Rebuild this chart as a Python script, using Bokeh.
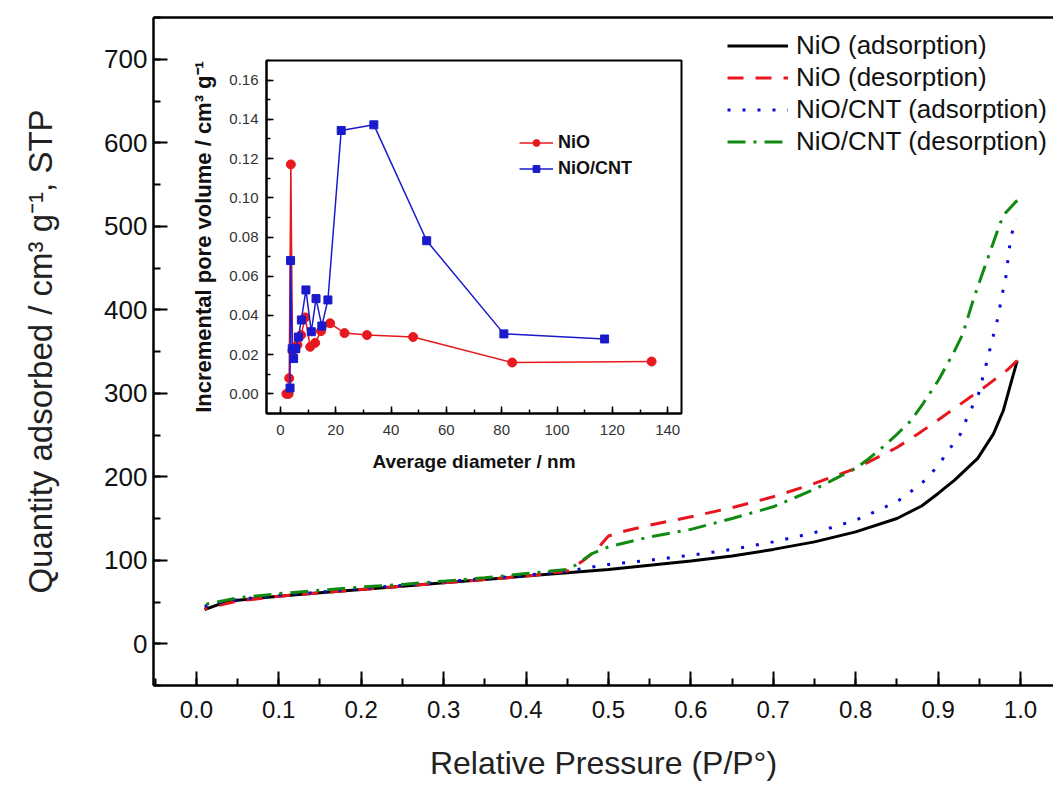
from bokeh.plotting import figure
from bokeh.models import (Range1d, LinearAxis, Legend, LegendItem,
                          SingleIntervalTicker, FixedTicker, NumeralTickFormatter)
from bokeh.embed import file_html
from bokeh.resources import INLINE

FONT = "Liberation Sans"

# ---------------- main isotherm data ----------------
nio_ads_x = [0.01, 0.03, 0.05, 0.08, 0.1, 0.15, 0.2, 0.25, 0.3, 0.35, 0.4, 0.45, 0.5, 0.55,
             0.6, 0.65, 0.7, 0.75, 0.8, 0.85, 0.88, 0.9, 0.92, 0.948, 0.967, 0.979, 0.988, 0.996]
nio_ads_y = [41, 48, 52, 55, 57, 61, 65, 69, 73, 77, 81, 85, 89, 94,
             99, 105, 113, 122, 134, 150, 165, 180, 196, 222, 251, 279, 311, 339]

nio_des_x = [0.996, 0.984, 0.96, 0.94, 0.92, 0.9, 0.875, 0.85, 0.82, 0.8, 0.75, 0.7, 0.65,
             0.6, 0.55, 0.52, 0.5, 0.485, 0.47, 0.455, 0.45, 0.4, 0.35, 0.3, 0.25, 0.2,
             0.15, 0.1, 0.05, 0.01]
nio_des_y = [339, 328, 310, 296, 282, 268, 251, 235, 220, 210, 192, 176, 163,
             152, 142, 135, 129, 112, 100, 90, 87, 81, 77, 73, 69, 65,
             61, 57, 51, 42]

cnt_ads_x = [0.01, 0.05, 0.1, 0.15, 0.2, 0.25, 0.3, 0.35, 0.4, 0.45, 0.5, 0.55, 0.6, 0.65,
             0.7, 0.75, 0.8, 0.85, 0.88, 0.9, 0.91, 0.927, 0.937, 0.949, 0.955, 0.961,
             0.967, 0.973, 0.977, 0.982, 0.985, 0.988, 0.994]
cnt_ads_y = [45, 53, 58, 62, 66, 70, 74, 78, 82, 87, 95, 100, 106, 113,
             122, 133, 148, 170, 192, 213, 228, 251, 275, 299, 322, 345,
             369, 392, 415, 438, 462, 485, 509]

cnt_des_x = [0.996, 0.979, 0.973, 0.955, 0.943, 0.93, 0.918, 0.9, 0.882, 0.867, 0.848,
             0.83, 0.815, 0.8, 0.75, 0.7, 0.65, 0.6, 0.55, 0.5, 0.48, 0.46, 0.45, 0.4,
             0.35, 0.3, 0.25, 0.2, 0.15, 0.1, 0.05, 0.01]
cnt_des_y = [531, 513, 497, 447, 413, 371, 347, 315, 288, 267, 249,
             233, 221, 210, 185, 164, 150, 137, 128, 116, 108, 94, 89, 84,
             79, 75, 71, 68, 64, 60, 55, 47]

# ---------------- inset pore-size data ----------------
nio_d = [2.2, 3.0, 3.2, 3.8, 4.4, 5.3, 6.2, 7.5, 9.0, 10.8, 12.6, 14.7, 18.0, 23.2,
         31.3, 48.0, 83.8, 134.2]
nio_v = [0.0, 0.0, 0.008, 0.117, 0.022, 0.023, 0.025, 0.030, 0.039, 0.024, 0.026,
         0.032, 0.036, 0.031, 0.030, 0.029, 0.016, 0.0165]
cnt_d = [3.5, 3.7, 4.3, 4.8, 5.6, 6.5, 7.6, 9.25, 11.2, 12.9, 15.0, 17.2, 22.0, 33.8,
         52.9, 80.8, 117.2]
cnt_v = [0.003, 0.068, 0.023, 0.018, 0.023, 0.029, 0.0377, 0.053, 0.0317, 0.0486,
         0.0346, 0.0479, 0.1343, 0.1372, 0.0781, 0.0306, 0.028]

labels_main = ["NiO (adsorption)", "NiO (desorption)",
               "NiO/CNT (adsorption)", "NiO/CNT (desorption)"]
labels_inset = ["NiO", "NiO/CNT"]

# ---------------- main figure ----------------
p = figure(width=1053, height=785, x_range=Range1d(-0.052, 1.04), y_range=Range1d(-50, 750),
           output_backend="svg", toolbar_location=None,
           min_border_left=153, min_border_right=0, min_border_top=17, min_border_bottom=100)
p.outline_line_color = None
p.grid.visible = False
p.background_fill_color = "white"
p.border_fill_color = "white"

for ax in (p.xaxis[0], p.yaxis[0]):
    ax.axis_line_width = 2.5
    ax.major_tick_line_width = 2
    ax.minor_tick_line_width = 2
    ax.major_tick_in = 14
    ax.major_tick_out = 0
    ax.minor_tick_in = 7
    ax.minor_tick_out = 0
    ax.major_label_text_font = FONT
    ax.major_label_text_color = "#111111"
    ax.axis_label_text_font = FONT
    ax.axis_label_text_font_style = "normal"
    ax.axis_label_text_color = "#222222"

p.xaxis.ticker = SingleIntervalTicker(interval=0.1, num_minor_ticks=2)
p.xaxis.formatter = NumeralTickFormatter(format="0.0")
p.xaxis.major_label_text_font_size = "24px"
p.xaxis.major_label_standoff = 15
p.xaxis.axis_label = "Relative Pressure (P/P\u00b0)"
p.xaxis.axis_label_text_font_size = "32px"
p.xaxis.axis_label_standoff = 24

p.yaxis.ticker = SingleIntervalTicker(interval=100, num_minor_ticks=2)
p.yaxis.major_label_text_font_size = "26px"
p.yaxis.major_label_standoff = 6
p.yaxis.axis_label = "Quantity adsorbed / cm\u00b3 g\u207b\u00b9, STP"
p.yaxis.axis_label_text_font_size = "33px"
p.yaxis.axis_label_standoff = 42

top = LinearAxis(ticker=FixedTicker(ticks=[]), axis_line_width=2.5,
                 major_label_text_font_size="0px", major_tick_line_color=None,
                 minor_tick_line_color=None)
p.add_layout(top, "above")

r1 = p.line(nio_ads_x, nio_ads_y, line_width=3, color="black")
r2 = p.line(nio_des_x, nio_des_y, line_width=3, color="#e8161c", line_dash="16 12")
r3 = p.line(cnt_ads_x, cnt_ads_y, line_width=3, color="#0a0ad8", line_dash="3 12")
r4 = p.line(cnt_des_x, cnt_des_y, line_width=3, color="#118a11", line_dash="18 8 3 8")

leg = Legend(items=[LegendItem(label=l, renderers=[r]) for l, r in
                    zip(labels_main, [r1, r2, r3, r4])],
             location=(574, 528), padding=0, margin=0, spacing=1,
             glyph_width=61, glyph_height=31, label_height=31, label_standoff=8,
             label_text_font=FONT, label_text_font_size="26px", label_text_color="#111111",
             border_line_color=None, background_fill_alpha=0)
p.add_layout(leg)

# ---------------- inset figure ----------------
ins = figure(width=505, height=430, x_range=Range1d(-5, 145), y_range=Range1d(-0.01, 0.17),
             output_backend="svg", toolbar_location=None,
             min_border_left=86, min_border_right=4, min_border_top=10, min_border_bottom=67)
ins.outline_line_color = "black"
ins.outline_line_width = 2
ins.grid.visible = False
ins.background_fill_alpha = 0
ins.border_fill_alpha = 0

for ax in (ins.xaxis[0], ins.yaxis[0]):
    ax.axis_line_width = 2
    ax.major_tick_line_width = 1.5
    ax.minor_tick_line_width = 1.5
    ax.major_tick_in = 7
    ax.major_tick_out = 0
    ax.minor_tick_in = 4
    ax.minor_tick_out = 0
    ax.major_label_text_font = FONT
    ax.major_label_text_font_size = "15px"
    ax.major_label_text_color = "#333333"
    ax.axis_label_text_font = FONT
    ax.axis_label_text_font_style = "bold"
    ax.axis_label_text_color = "#111111"

ins.xaxis.ticker = SingleIntervalTicker(interval=20, num_minor_ticks=2)
ins.xaxis.major_label_standoff = 11
ins.xaxis.axis_label = "Average diameter / nm"
ins.xaxis.axis_label_text_font_size = "19px"
ins.xaxis.axis_label_standoff = 13
ins.yaxis.ticker = SingleIntervalTicker(interval=0.02, num_minor_ticks=2)
ins.yaxis.formatter = NumeralTickFormatter(format="0.00")
ins.yaxis.major_label_standoff = 8
ins.yaxis.axis_label = "Incremental pore volume / cm\u00b3 g\u207b\u00b9"
ins.yaxis.axis_label_text_font_size = "22px"
ins.yaxis.axis_label_standoff = 10

red = "#e8191e"
blue = "#1a1acc"
l1 = ins.line(nio_d, nio_v, line_width=1.5, color=red)
s1 = ins.scatter(nio_d, nio_v, marker="circle", size=9, color=red)
l2 = ins.line(cnt_d, cnt_v, line_width=1.5, color=blue)
s2 = ins.scatter(cnt_d, cnt_v, marker="square", size=8, color=blue)

ileg = Legend(items=[LegendItem(label=labels_inset[0], renderers=[l1, s1]),
                     LegendItem(label=labels_inset[1], renderers=[l2, s2])],
              location=(253, 233), padding=0, margin=0, spacing=2,
              glyph_width=34, glyph_height=17, label_height=24, label_standoff=5,
              label_text_font=FONT, label_text_font_style="bold",
              label_text_font_size="18px", label_text_color="#111111",
              border_line_color=None, background_fill_alpha=0)
ins.add_layout(ileg)

ins.styles = {"position": "absolute", "left": "180px", "top": "50px"}

open("out.html", "w").write(file_html([p, ins], INLINE))
